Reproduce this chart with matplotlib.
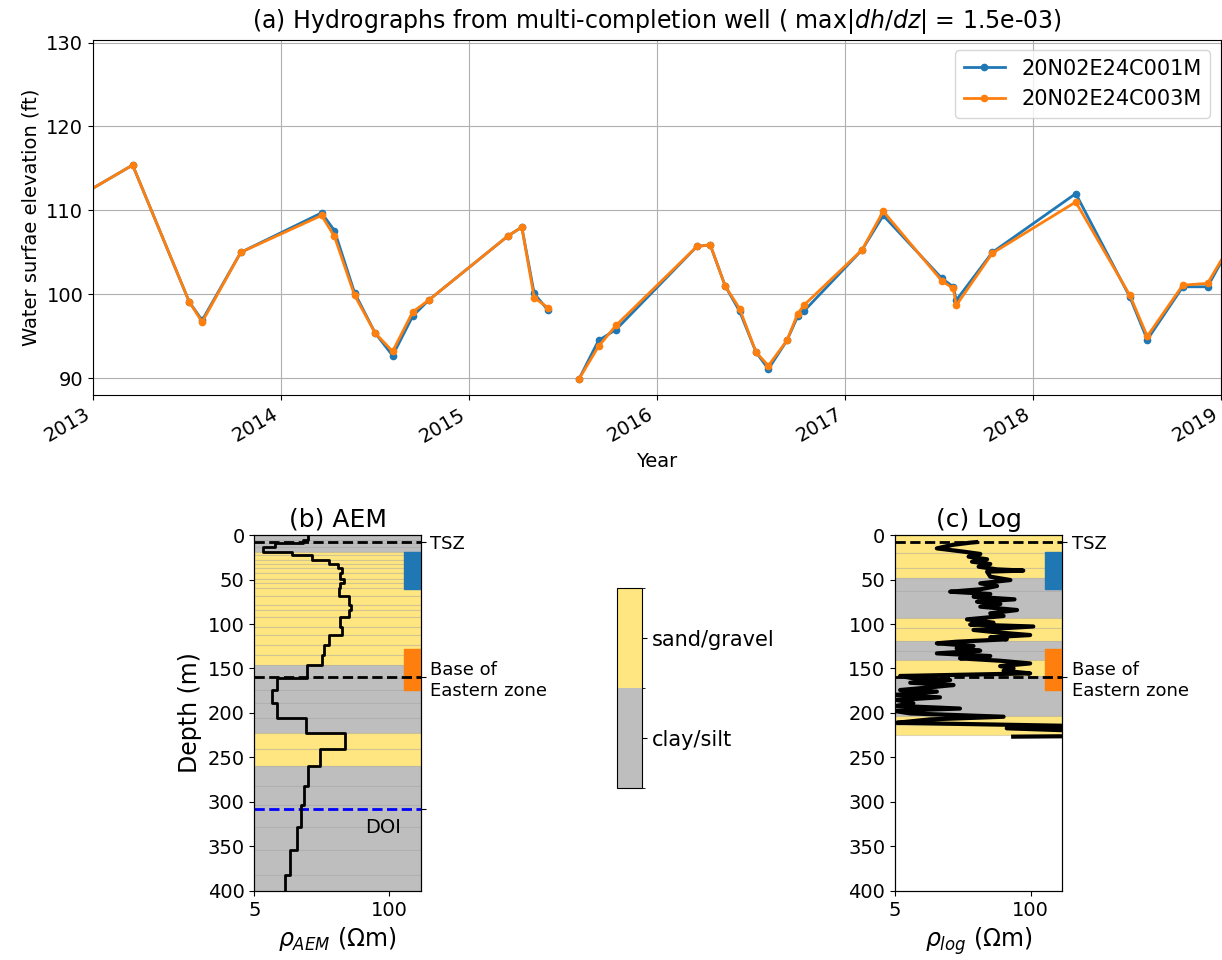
import numpy as np
import pandas as pd
import matplotlib
matplotlib.use('Agg')
import matplotlib.pyplot as plt
import matplotlib.dates as mdates
from matplotlib.colors import ListedColormap, BoundaryNorm
from matplotlib.cm import ScalarMappable
import matplotlib.transforms as mtransforms

# ---- hydrograph data ----
dates = ['2012-10-19', '2013-03-19', '2013-07-07', '2013-08-01', '2013-10-15',
         '2014-03-21', '2014-04-15', '2014-05-24', '2014-07-03', '2014-08-06',
         '2014-09-14', '2014-10-15', '2015-03-19', '2015-04-14', '2015-05-08',
         '2015-06-04', '2015-07-01', '2015-08-03', '2015-09-10', '2015-10-14',
         '2016-03-19', '2016-04-14', '2016-05-13', '2016-06-10', '2016-07-12',
         '2016-08-05', '2016-09-10', '2016-10-01', '2016-10-13', '2017-02-03',
         '2017-03-16', '2017-07-08', '2017-07-30', '2017-08-05', '2017-10-14',
         '2018-03-25', '2018-07-08', '2018-08-11', '2018-10-19', '2018-12-06',
         '2019-01-30']
h_c001 = [110.0, 115.4, 99.1, 96.9, 105.0, 109.7, 107.6, 100.2, 95.4, 92.7,
          97.4, 99.3, 107.0, 108.0, 100.1, 98.1, np.nan, 89.9, 94.5, 95.8,
          105.7, 105.9, 101.0, 98.0, 93.1, 91.1, 94.5, 97.4, 98.0, 105.3,
          109.4, 101.9, 100.9, 99.3, 105.0, 112.0, 99.7, 94.6, 100.9, 100.9,
          107.0]
h_c003 = [110.0, 115.4, 99.1, 96.7, 105.0, 109.4, 106.9, 99.9, 95.4, 93.2,
          97.9, 99.3, 107.0, 108.0, 99.6, 98.4, np.nan, 89.9, 93.8, 96.3,
          105.7, 105.9, 101.0, 98.3, 93.1, 91.5, 94.5, 97.7, 98.7, 105.3,
          109.9, 101.6, 100.7, 98.7, 104.9, 111.0, 99.9, 95.0, 101.1, 101.3,
          107.0]
well_names = ['20N02E24C001M', '20N02E24C003M']
max_dhdz = 1.5e-03

# ---- AEM model (layer boundaries in m, resistivity in ohm-m, lithology 0=clay 1=sand) ----
aem_bounds = [0, 5.5, 9.5, 13, 19, 22.5, 28, 32.5, 37, 43, 49, 54, 60, 69, 79, 84,
              92, 103, 112, 124, 135, 146, 161, 174, 189, 206, 222, 241, 260,
              282, 303, 328, 354, 382, 400]
aem_rho = [16.5, 14.8, 7.9, 6.1, 11.5, 17.9, 26.0, 31.7, 34.9, 33.7, 36.3, 33.7,
           32.4, 40.5, 42.6, 40.5, 33.7, 34.9, 25.9, 23.2, 22.4, 16.0, 8.2, 7.4,
           8.2, 15.6, 37.1, 21.6, 16.4, 15.1, 14.1, 12.8, 11.1, 9.9]
aem_lith = [0, 0, 0, 0, 1, 1, 1, 1, 1, 1, 1, 1, 1, 1, 1, 1, 1, 1, 1, 1, 1,
            0, 0, 0, 0, 0, 1, 1, 0, 0, 0, 0, 0, 0]
doi = 308

# ---- well log ----
log_depth = [8.0, 8.6, 11, 15.0, 18.7, 21.3, 24.3, 27.3, 30.0, 32.6, 35.6, 38.6,
             40.0, 41.2, 46.8, 50.6, 54.3, 57.3, 61.0, 63.7, 66.3, 69.3, 72.3,
             74.9, 77.5, 80.5, 84.3, 88.0, 91.0, 94.8, 98.5, 100.6, 102.8, 106.7,
             109.7, 112.4, 115.0, 117.2, 119.9, 121.7, 124.7, 127.3, 130.0, 133.0,
             136.0, 138.6, 141.3, 144.3, 147.3, 149.9, 152.5, 155.5, 158.4, 161.0,
             163.0, 166.0, 168.6, 171.2, 174.2, 176.0, 179.8, 182.4, 185.4, 189.0,
             192.0, 195.0, 197.5, 200.5, 204.2, 207.2, 211.0, 214.7, 217.2, 220.0,
             226.0, 226.6]
log_rho = [30, 26.4, 18, 12.6, 22.7, 32.9, 25.4, 38.2, 27.4, 41, 31.7, 47.6,
           85, 38.2, 41, 63.9, 32.9, 47.6, 32.9, 16.9, 41, 28.4, 70,
           30.6, 51.2, 32.9, 74, 41, 55, 24.5, 44, 26.3, 106, 28.3,
           51, 98.9, 41, 59, 19.5, 12.6, 28.3, 19.5, 32.8, 12.6,
           41, 21, 51, 98.9, 51, 68.5, 55, 98.9, 5.6, 7.5,
           16.9, 7.0, 18.2, 10.8, 5.6, 12.6, 4.8, 13.5, 5.2, 7.5,
           5.2, 21, 4.8, 7.0, 55, 10.8, 5.2, 300, 59, 300,
           300, 68]
log_lith_bounds = [0, 20, 37, 48, 63, 93, 105, 119, 130, 141, 158, 203, 213, 225]
log_lith = [1, 1, 1, 0, 0, 1, 1, 0, 0, 1, 0, 1, 1]

lith_colors = ['#bebebe', '#ffe680']
lith_names = ['clay/silt', 'sand/gravel']
screen_c001 = (19, 61)
screen_c003 = (128, 174)
tsz_depth = 8
eastern_base = 160

fig = plt.figure(figsize=(12.22, 9.6), dpi=100)

# ---- (a) hydrographs ----
ax = fig.add_axes([0.0761, 0.5885, 0.923, 0.3698])
t = pd.to_datetime(dates)
ax.plot(t, h_c001, '.-', color='tab:blue', lw=2, ms=9, label=well_names[0])
ax.plot(t, h_c003, '.-', color='tab:orange', lw=2, ms=9, label=well_names[1])
ax.set_xlim(pd.Timestamp('2013-01-01'), pd.Timestamp('2019-01-01'))
ax.set_ylim(88, 130.3)
ax.set_yticks([90, 100, 110, 120, 130])
ax.xaxis.set_major_locator(mdates.YearLocator())
ax.xaxis.set_major_formatter(mdates.DateFormatter('%Y'))
plt.setp(ax.get_xticklabels(), rotation=30, ha='right')
ax.tick_params(labelsize=14)
ax.grid(True)
ax.set_xlabel('Year', fontsize=14)
ax.set_ylabel('Water surfae elevation (ft)', fontsize=14)
ax.set_title('(a) Hydrographs from multi-completion well ( max|$dh/dz$| = %.1e)' % max_dhdz,
             fontsize=17, pad=9)
ax.legend(loc='upper right', fontsize=15)


def depth_panel(ax, title, xlabel):
    ax.set_xscale('log')
    ax.set_xlim(5, 200)
    ax.set_ylim(400, 0)
    ax.set_xticks([5, 100])
    ax.set_xticklabels(['5', '100'])
    ax.xaxis.set_minor_locator(matplotlib.ticker.NullLocator())
    ax.set_yticks(np.arange(0, 401, 50))
    ax.tick_params(labelsize=14)
    ax.set_title(title, fontsize=18)
    ax.set_xlabel(xlabel, fontsize=17)
    # screened intervals
    trans = mtransforms.blended_transform_factory(ax.transAxes, ax.transData)
    for (top, bot), c in [(screen_c001, 'tab:blue'), (screen_c003, 'tab:orange')]:
        ax.add_patch(plt.Rectangle((0.9, top), 0.1, bot - top, transform=trans,
                                   color=c, zorder=3))
    ax.axhline(tsz_depth, color='k', ls='--', lw=2, zorder=4)
    ax.axhline(eastern_base, color='k', ls='--', lw=2, zorder=4)


def lith_bands(ax, bounds, lith):
    for i in range(len(lith)):
        ax.axhspan(bounds[i], bounds[i + 1], facecolor=lith_colors[lith[i]],
                   edgecolor=(0.5, 0.5, 0.5, 0.25), lw=0.8, zorder=0)


# ---- (b) AEM ----
axb = fig.add_axes([0.2081, 0.0719, 0.1362, 0.3708])
lith_bands(axb, aem_bounds, aem_lith)
yb = np.repeat(aem_bounds, 2)[1:-1]
xb = np.repeat(aem_rho, 2)
axb.plot(xb, yb, color='k', lw=2, zorder=5)
depth_panel(axb, '(b) AEM', r'$\rho_{AEM}$ ($\Omega$m)')
axb.axhline(doi, color='b', ls='--', lw=2, zorder=4)
axb.text(0.88, 329, 'DOI', transform=mtransforms.blended_transform_factory(axb.transAxes, axb.transData),
         ha='right', va='center', fontsize=14)
axb.set_ylabel('Depth (m)', fontsize=17)
r = axb.twinx()
r.set_ylim(axb.get_ylim())
r.set_yticks([tsz_depth, eastern_base, doi])
r.set_yticklabels(['TSZ', 'Base of\nEastern zone', ''], fontsize=13)

# ---- lithology colour bar ----
cax = fig.add_axes([0.505, 0.179, 0.0205, 0.208])
cmap = ListedColormap(lith_colors)
norm = BoundaryNorm([0, 1, 2], 2)
cb = fig.colorbar(ScalarMappable(norm=norm, cmap=cmap), cax=cax, ticks=[0.5, 1.5])
cb.ax.set_yticklabels(lith_names, fontsize=15)

# ---- (c) Log ----
axc = fig.add_axes([0.7324, 0.0719, 0.1367, 0.3708])
lith_bands(axc, log_lith_bounds, log_lith)
axc.plot(log_rho, log_depth, color='k', lw=3, zorder=5)
depth_panel(axc, '(c) Log', r'$\rho_{log}$ ($\Omega$m)')
r = axc.twinx()
r.set_ylim(axc.get_ylim())
r.set_yticks([tsz_depth, eastern_base])
r.set_yticklabels(['TSZ', 'Base of\nEastern zone'], fontsize=13)

fig.savefig('out.png', dpi=100)
